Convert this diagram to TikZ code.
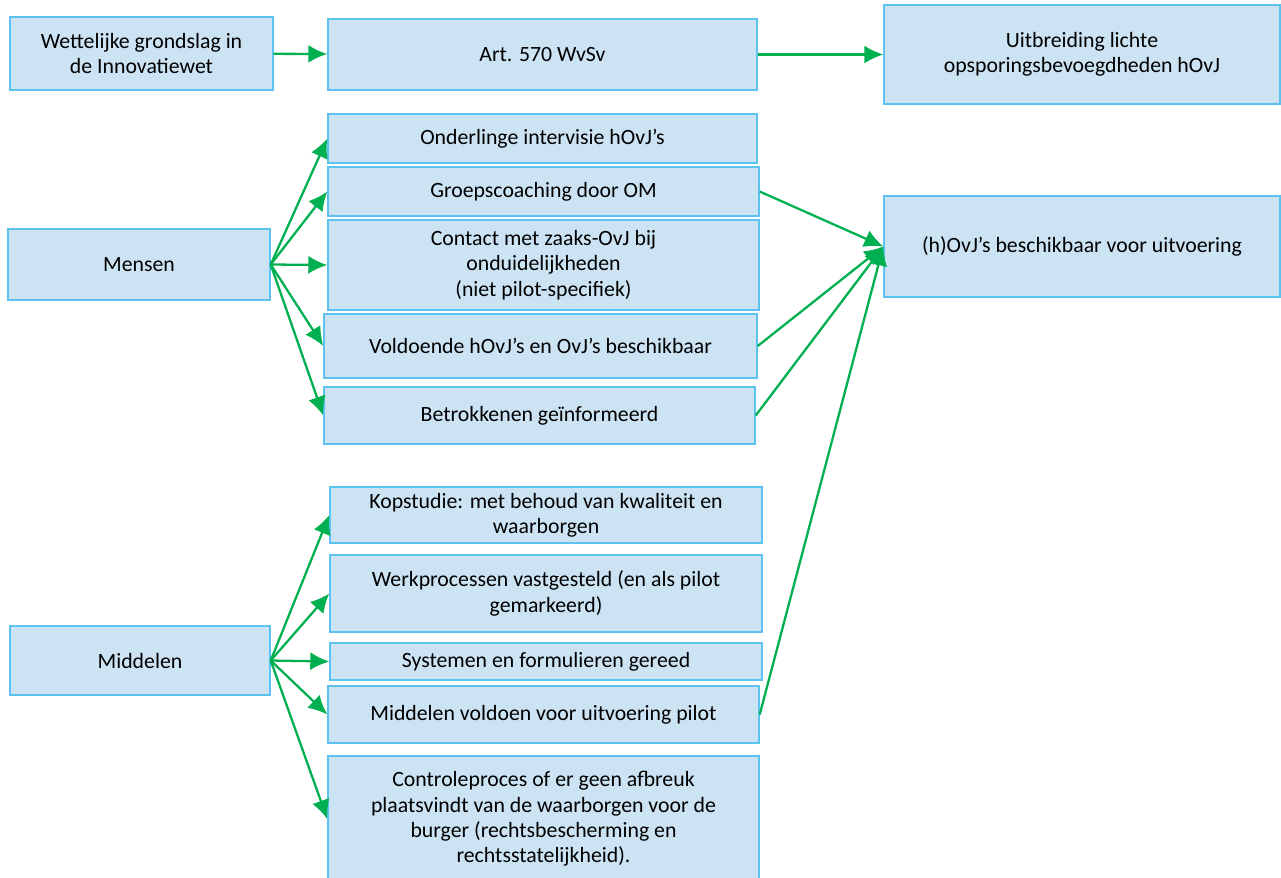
\documentclass[tikz,border=0pt]{standalone}
\usepackage{fontspec}
\setmainfont{Carlito}
\usetikzlibrary{arrows.meta}
\usetikzlibrary{positioning}

\definecolor{boxfill}{HTML}{CCE3F4}
\definecolor{boxline}{HTML}{5CC3EE}
\definecolor{pijl}{HTML}{00B050}

\begin{document}
\begin{tikzpicture}[>={Latex[length=3.8mm,width=3.6mm]},
    blok/.style={draw=boxline, fill=boxfill, line width=0.8pt, inner sep=0pt, align=center, font=\fontsize{12.4}{14.4}\selectfont},
    pijl/.style={->, draw=pijl, line width=1.3pt}]

            \useasboundingbox (0,0) rectangle (25.62,-17.54);

            % Nodes (top row)
            \node [blok, minimum width=5.26cm, minimum height=1.46cm] (Wet) at (2.83,-1.07) {Wettelijke grondslag in\\de Innovatiewet};
            \node [blok, minimum width=8.58cm, minimum height=1.42cm] (Art) at (10.85,-1.09) {Art. 570 WvSv};
            \node [blok, minimum width=7.92cm, minimum height=1.98cm] (Uitbreiding) at (21.64,-1.09) {Uitbreiding lichte\\opsporingsbevoegdheden hOvJ};

            % Mensen
            \node [blok, minimum width=5.24cm, minimum height=1.42cm] (Mensen) at (2.78,-5.29) {Mensen};
            \node [blok, minimum width=8.58cm, minimum height=0.98cm] (Intervisie) at (10.85,-2.77) {Onderlinge intervisie hOvJ's};
            \node [blok, minimum width=8.62cm, minimum height=0.98cm] (Coaching) at (10.87,-3.83) {Groepscoaching door OM};
            \node [blok, minimum width=8.62cm, minimum height=1.80cm] (Contact) at (10.87,-5.30) {Contact met zaaks-OvJ bij\\onduidelijkheden\\(niet pilot-specifiek)};
            \node [blok, minimum width=8.66cm, minimum height=1.28cm] (Voldoende) at (10.81,-6.92) {Voldoende hOvJ's en OvJ's beschikbaar};
            \node [blok, minimum width=8.62cm, minimum height=1.14cm] (Betrokken) at (10.79,-8.31) {Betrokkenen geïnformeerd};
            \node [blok, minimum width=7.92cm, minimum height=2.02cm] (Beschikbaar) at (21.64,-4.93) {(h)OvJ's beschikbaar voor uitvoering};

            % Middelen
            \node [blok, minimum width=5.20cm, minimum height=1.38cm] (Middelen) at (2.80,-13.21) {Middelen};
            \node [blok, minimum width=8.64cm, minimum height=1.12cm] (Kopstudie) at (10.92,-10.30) {Kopstudie: met behoud van kwaliteit en\\waarborgen};
            \node [blok, minimum width=8.64cm, minimum height=1.54cm] (Werkproces) at (10.92,-11.87) {Werkprocessen vastgesteld (en als pilot\\gemarkeerd)};
            \node [blok, minimum width=8.64cm, minimum height=0.74cm] (Systemen) at (10.92,-13.23) {Systemen en formulieren gereed};
            \node [blok, minimum width=8.62cm, minimum height=1.14cm] (MiddelenOk) at (10.87,-14.29) {Middelen voldoen voor uitvoering pilot};
            \node [blok, minimum width=8.62cm, minimum height=2.52cm] (Controle) at (10.87,-16.38) {Controleproces of er geen afbreuk\\plaatsvindt van de waarborgen voor de\\burger (rechtsbescherming en\\rechtsstatelijkheid).};

            % Connections
            \draw [pijl] (Wet) -- (Art);
            \draw [pijl] (Art) -- (Uitbreiding);

            \draw [pijl] (Mensen.east) -- (Intervisie.west);
            \draw [pijl] (Mensen.east) -- (Coaching.west);
            \draw [pijl] (Mensen.east) -- (Contact.west);
            \draw [pijl] (Mensen.east) -- (Voldoende.west);
            \draw [pijl] (Mensen.east) -- (Betrokken.west);

            \draw [pijl] (Middelen.east) -- (Kopstudie.west);
            \draw [pijl] (Middelen.east) -- (Werkproces.west);
            \draw [pijl] (Middelen.east) -- (Systemen.west);
            \draw [pijl] (Middelen.east) -- (MiddelenOk.west);
            \draw [pijl] (Middelen.east) -- (Controle.west);

            \draw [pijl] (Coaching.east) -- (Beschikbaar.west);
            \draw [pijl] (Voldoende.east) -- (Beschikbaar.west);
            \draw [pijl] (Betrokken.east) -- (Beschikbaar.west);
            \draw [pijl] (MiddelenOk.east) -- (Beschikbaar.west);

        \end{tikzpicture}
\end{document}
